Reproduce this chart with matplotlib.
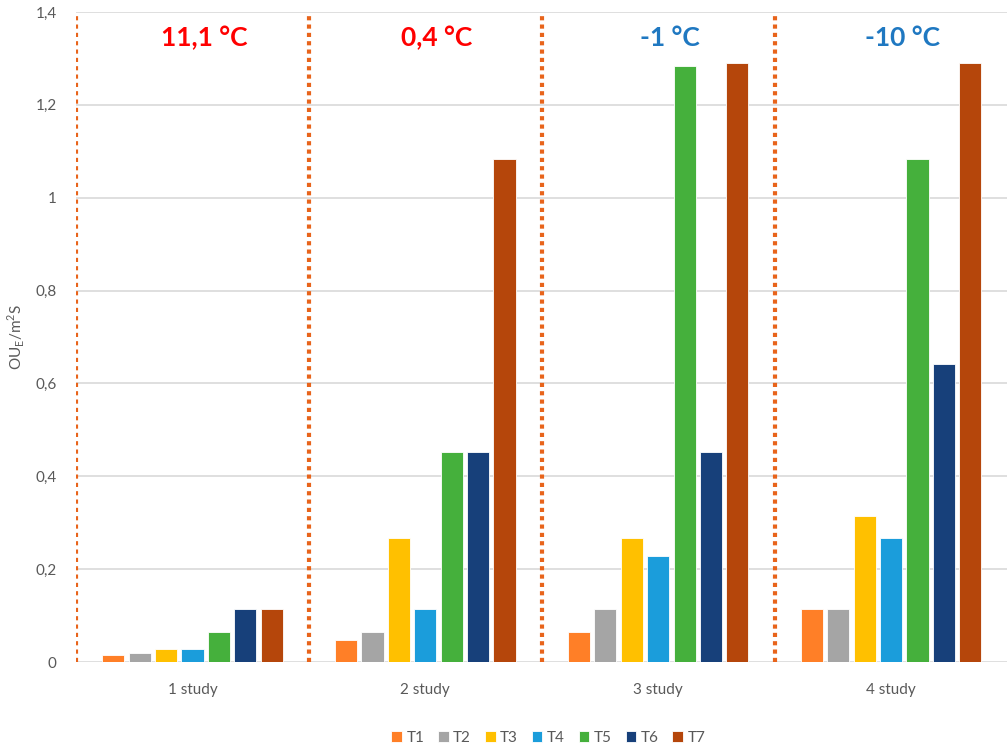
import numpy as np
import matplotlib.pyplot as plt
from matplotlib.ticker import FuncFormatter

plt.rcParams['font.family'] = ['Lato', 'DejaVu Sans']

# Data
studies = ['1 study', '2 study', '3 study', '4 study']
temps = ['11,1 °C', '0,4 °C', '-1 °C', '-10 °C']
temp_colors = ['#FF0000', '#FF0000', '#1F78C1', '#1F78C1']
series = ['T1', 'T2', 'T3', 'T4', 'T5', 'T6', 'T7']
T1 = [0.016, 0.047, 0.065, 0.114]
T2 = [0.020, 0.065, 0.114, 0.114]
T3 = [0.028, 0.267, 0.267, 0.314]
T4 = [0.028, 0.114, 0.228, 0.267]
T5 = [0.065, 0.452, 1.284, 1.083]
T6 = [0.114, 0.452, 0.452, 0.642]
T7 = [0.114, 1.083, 1.290, 1.290]
values = [T1, T2, T3, T4, T5, T6, T7]
colors = ['#FF7F27', '#A5A5A5', '#FFC000', '#1B9DDB', '#45B03C', '#17407A', '#B5460B']

fig = plt.figure(figsize=(10.07, 7.44), dpi=100)
ax = fig.add_axes([0.0755, 0.1102, 0.925, 0.8737])

x = np.arange(len(studies))
slot = 0.1134
width = 0.095
for i, (name, vals) in enumerate(zip(series, values)):
    ax.bar(x + (i - 3) * slot, vals, width, color=colors[i], label=name,
           edgecolor='white', linewidth=0.6, zorder=3)

# dotted dividers between studies
for b in np.arange(len(studies)) - 0.5:
    ax.axvline(b, color='#E8641B', linestyle=(0, (1, 1)), linewidth=3,
               dash_capstyle='butt', zorder=4)

# temperature labels
for xi, t, c in zip(x, temps, temp_colors):
    ax.text(xi + 0.05, 1.345, t, color=c, fontsize=19, fontweight='bold',
            ha='center', va='center', zorder=5)

ax.set_xlim(-0.5, 3.5)
ax.set_ylim(0, 1.4)
ax.set_yticks(np.arange(0, 1.41, 0.2))
ax.yaxis.set_major_formatter(FuncFormatter(
    lambda v, p: '0' if abs(v) < 1e-9 else ('%g' % round(v, 1)).replace('.', ',')))
ax.set_xticks(x)
ax.set_xticklabels(studies)
ax.tick_params(axis='both', length=0, colors='#595959', labelsize=11)
ax.tick_params(axis='x', pad=15)
ax.tick_params(axis='y', pad=14)
ax.grid(axis='y', color='#D9D9D9', linewidth=1.2, zorder=0)
for s in ax.spines.values():
    s.set_visible(False)
ax.set_ylabel('OU$_\\mathregular{E}$/m$^\\mathregular{2}$S', color='#595959',
              fontsize=11, labelpad=6)

ax.legend(loc='upper center', bbox_to_anchor=(0.507, -0.085), ncol=7, frameon=False,
          fontsize=11, handlelength=0.7, handleheight=0.7, handletextpad=0.3,
          columnspacing=0.9, labelcolor='#595959')

fig.savefig('out.png', dpi=100)
